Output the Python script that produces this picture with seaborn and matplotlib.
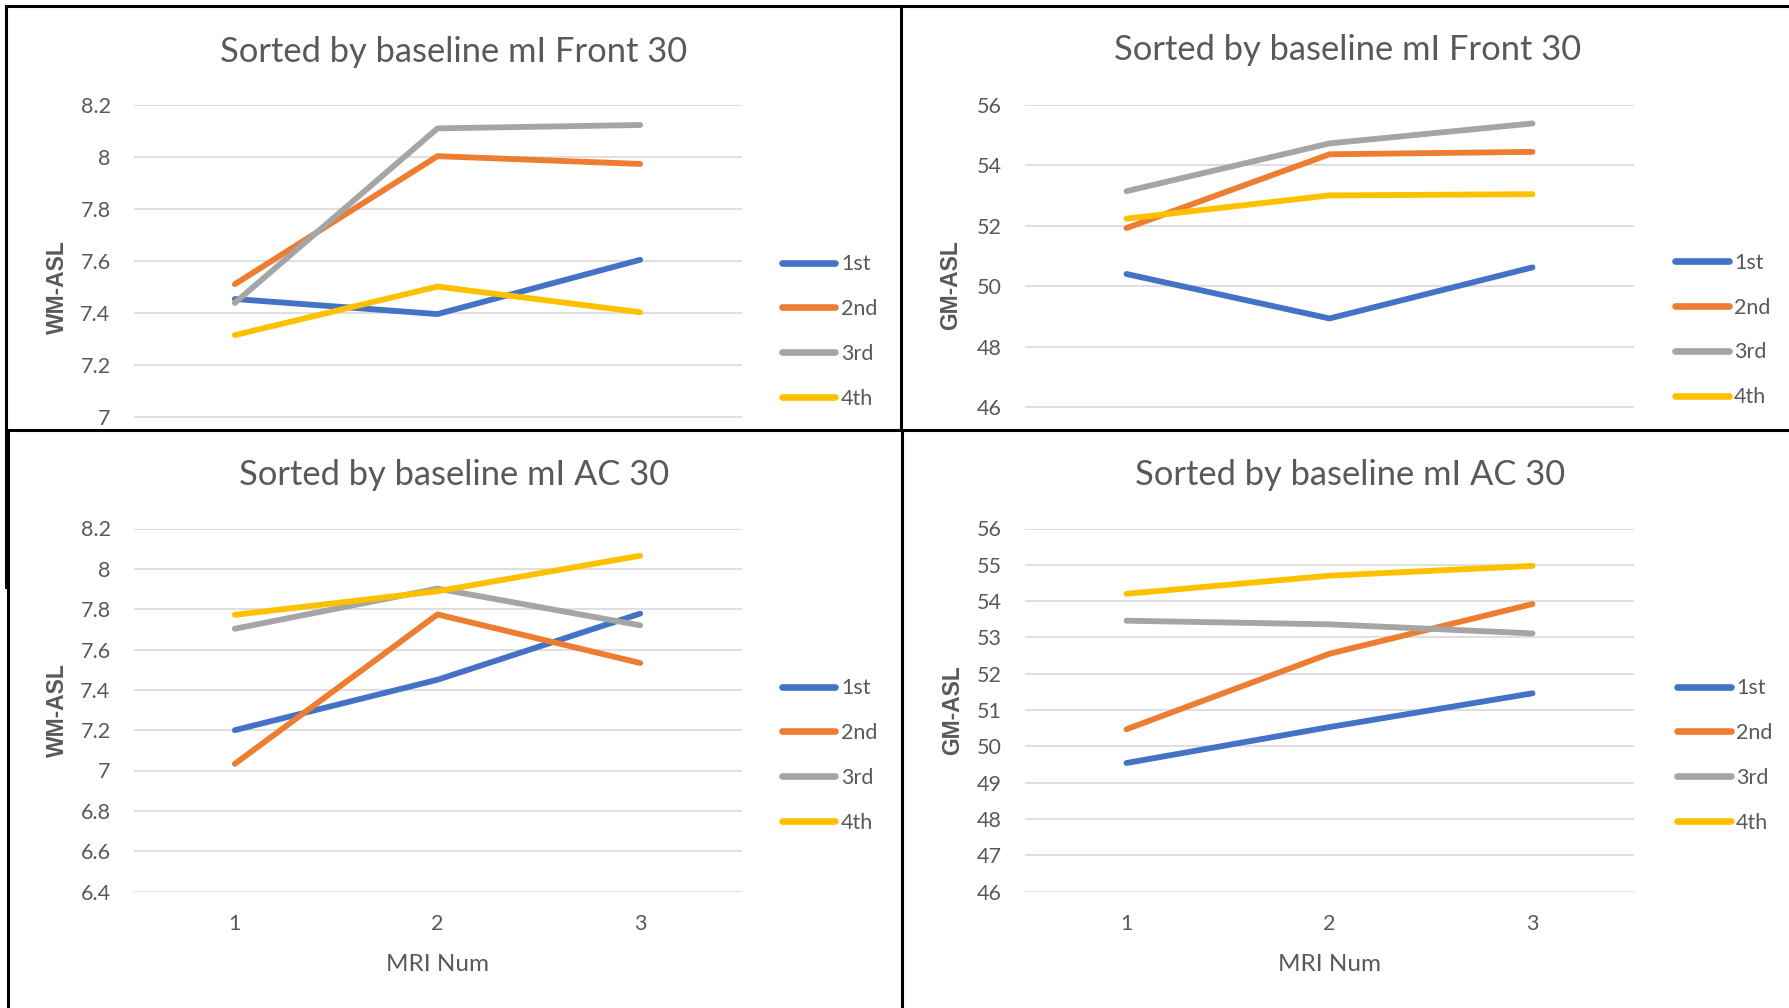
import matplotlib
matplotlib.use("Agg")
import matplotlib.pyplot as plt
from matplotlib.lines import Line2D
from matplotlib.ticker import FuncFormatter, FixedLocator
import numpy as np
import pandas as pd
import seaborn as sns

# ---------------------------------------------------------------- data
mri_num = [1, 2, 3]
groups = ["1st", "2nd", "3rd", "4th"]
colors = ["#4472C4", "#ED7D31", "#A5A5A5", "#FFC000"]

# WM-ASL, sorted by baseline mI Front 30
wm_front_1st = [7.453, 7.395, 7.604]
wm_front_2nd = [7.510, 8.003, 7.973]
wm_front_3rd = [7.438, 8.110, 8.123]
wm_front_4th = [7.314, 7.501, 7.402]

# GM-ASL, sorted by baseline mI Front 30
gm_front_1st = [50.40, 48.93, 50.62]
gm_front_2nd = [51.92, 54.36, 54.44]
gm_front_3rd = [53.14, 54.72, 55.38]
gm_front_4th = [52.23, 53.00, 53.04]

# WM-ASL, sorted by baseline mI AC 30
wm_ac_1st = [7.200, 7.450, 7.778]
wm_ac_2nd = [7.033, 7.774, 7.533]
wm_ac_3rd = [7.703, 7.902, 7.720]
wm_ac_4th = [7.772, 7.889, 8.065]

# GM-ASL, sorted by baseline mI AC 30
gm_ac_1st = [49.54, 50.53, 51.46]
gm_ac_2nd = [50.47, 52.55, 53.92]
gm_ac_3rd = [53.46, 53.36, 53.11]
gm_ac_4th = [54.20, 54.70, 54.97]

title_front = "Sorted by baseline mI Front 30"
title_ac = "Sorted by baseline mI AC 30"


def long_table(series):
    rows = []
    for g, vals in zip(groups, series):
        for x, v in zip(mri_num, vals):
            rows.append({"MRI Num": x, "value": v, "group": g})
    return pd.DataFrame(rows)


# ---------------------------------------------------------------- style
sns.set_style("white")
plt.rcParams["font.family"] = ["Lato", "DejaVu Sans"]
TXT = "#595959"
GRID = "#D9D9D9"

W, H = 1789, 1008
fig = plt.figure(figsize=(W / 100, H / 100), dpi=100)
fig.patch.set_facecolor("white")


def frac_rect(left, top, right, bottom):
    return [left / W, 1 - bottom / H, (right - left) / W, (bottom - top) / H]


panels = [
    dict(series=[wm_front_1st, wm_front_2nd, wm_front_3rd, wm_front_4th],
         title=title_front, ylabel="WM-ASL",
         box=(133.5, 105.0, 741.5, 468.6), ylim=(6.8, 8.2),
         ticks=np.round(np.arange(7.0, 8.21, 0.2), 1),
         chart_cx=453.5, title_y=51.5, ylab=(57, 286.7),
         legend=(781.6, 331.5), show_x=False),
    dict(series=[gm_front_1st, gm_front_2nd, gm_front_3rd, gm_front_4th],
         title=title_front, ylabel="GM-ASL",
         box=(1025.0, 104.7, 1634.0, 467.5), ylim=(44, 56),
         ticks=np.arange(46, 57, 2),
         chart_cx=1347.5, title_y=50.5, ylab=(950.5, 285.0),
         legend=(1675.0, 330.0), show_x=False),
    dict(series=[wm_ac_1st, wm_ac_2nd, wm_ac_3rd, wm_ac_4th],
         title=title_ac, ylabel="WM-ASL",
         box=(133.5, 528.5, 741.5, 891.5), ylim=(6.4, 8.2),
         ticks=np.round(np.arange(6.4, 8.21, 0.2), 1),
         chart_cx=454.0, title_y=475.0, ylab=(57, 710.0),
         legend=(781.6, 755.5), show_x=True),
    dict(series=[gm_ac_1st, gm_ac_2nd, gm_ac_3rd, gm_ac_4th],
         title=title_ac, ylabel="GM-ASL",
         box=(1025.0, 528.5, 1634.0, 891.5), ylim=(46, 56),
         ticks=np.arange(46, 57, 1),
         chart_cx=1350.0, title_y=475.0, ylab=(953.0, 710.0),
         legend=(1677.0, 755.5), show_x=True),
]

for p in panels:
    left, top, right, bottom = p["box"]
    pw, ph = right - left, bottom - top
    ax = fig.add_axes(frac_rect(left, top, right, bottom))
    df = long_table(p["series"])
    sns.lineplot(data=df, x="MRI Num", y="value", hue="group",
                 hue_order=groups, palette=colors, linewidth=4.2,
                 solid_capstyle="round", solid_joinstyle="round",
                 ax=ax, legend=True)

    ax.set_xlim(0.5, 3.5)
    ax.set_ylim(*p["ylim"])
    ax.yaxis.set_major_locator(FixedLocator(p["ticks"]))
    ax.yaxis.set_major_formatter(FuncFormatter(lambda v, _: f"{round(v, 1):g}"))
    ax.set_xticks(mri_num)
    ax.grid(axis="y", color=GRID, linewidth=1.2)
    ax.grid(axis="x", visible=False)
    ax.set_axisbelow(True)
    for s in ax.spines.values():
        s.set_visible(False)
    ax.tick_params(axis="both", length=0, labelsize=15.5, labelcolor=TXT)
    ax.tick_params(axis="y", pad=16.5)
    ax.tick_params(axis="x", pad=16)
    ax.patch.set_alpha(0)

    if p["show_x"]:
        ax.set_xlabel("MRI Num", fontsize=17.5, color=TXT)
        ax.xaxis.set_label_coords(0.5, (bottom - 964.5) / ph)
        ax.xaxis.label.set_va("center")
    else:
        ax.set_xlabel("")
        ax.set_xticklabels([])

    ax.set_ylabel(p["ylabel"], fontsize=16.5, color=TXT, fontweight="bold",
                  family=["Liberation Sans", "DejaVu Sans"])
    ax.yaxis.set_label_coords((p["ylab"][0] - left) / pw,
                              (bottom - p["ylab"][1]) / ph)
    ax.yaxis.label.set_va("center")
    ax.yaxis.label.set_ha("center")

    ax.set_title(p["title"], fontsize=24.8, color=TXT, pad=0,
                 x=(p["chart_cx"] - left) / pw,
                 y=(bottom - p["title_y"]) / ph, va="center", ha="center")

    lx, ly = p["legend"]
    sns.move_legend(ax, "center left", bbox_to_anchor=(lx / W, 1 - ly / H),
                    bbox_transform=fig.transFigure, frameon=False, title=None,
                    fontsize=15.5, handlelength=2.5, handletextpad=0.25,
                    labelspacing=1.16, borderpad=0, borderaxespad=0)
    leg = ax.get_legend()
    for h in leg.legend_handles:
        h.set_linewidth(4.8)
        h.set_solid_capstyle("round")
    for t in leg.get_texts():
        t.set_color(TXT)

# ---------------------------------------------------------------- panel frames
frame_kw = dict(color="black", linewidth=2.2, transform=fig.transFigure,
                solid_capstyle="projecting", zorder=10)


def hline(y, x0, x1):
    fig.add_artist(Line2D([x0 / W, x1 / W], [1 - y / H, 1 - y / H], **frame_kw))


def vline(x, y0, y1):
    fig.add_artist(Line2D([x / W, x / W], [1 - y0 / H, 1 - y1 / H], **frame_kw))


hline(6, 6, W)
vline(6, 6, 587)
vline(901, 6, 430)
hline(430, 7.5, W)
vline(7.5, 430, H)
vline(902, 430, H)

fig.savefig("out.png", dpi=100, facecolor="white")
